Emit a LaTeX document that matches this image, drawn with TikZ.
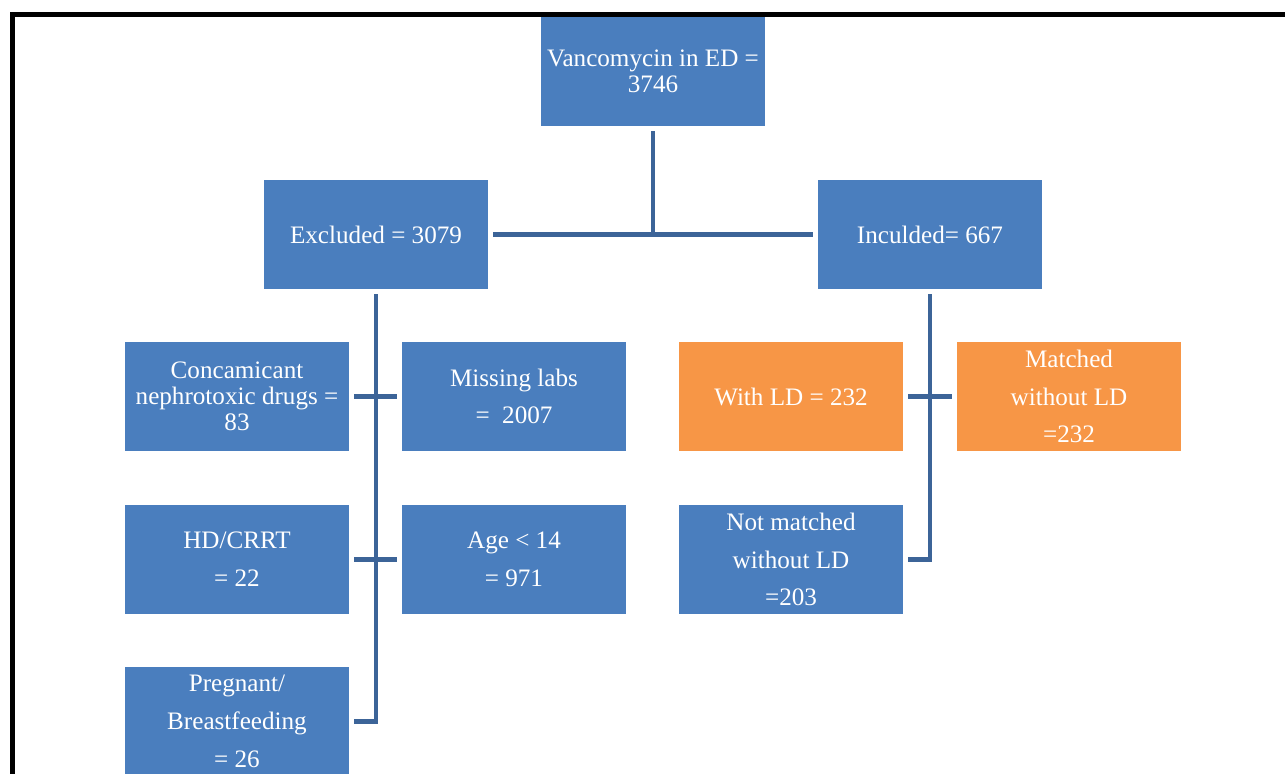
\documentclass[tikz,border=0pt]{standalone}
\usepackage{fontspec}
\setmainfont{Liberation Serif}
\usetikzlibrary{calc}

\definecolor{boxblue}{HTML}{4A7EBE}
\definecolor{boxorange}{HTML}{F79646}
\definecolor{linkblue}{HTML}{3C6498}

\tikzstyle{stage} = [fill=boxblue, rectangle, minimum width=4.48cm, minimum height=2.18cm, text=white, align=center, inner sep=0pt, font=\fontsize{14.3}{21.5}\selectfont]
\tikzstyle{tight} = [font=\fontsize{14.3}{14.8}\selectfont]
\tikzstyle{ldbox} = [stage, fill=boxorange]
\tikzstyle{link}  = [draw=linkblue, line width=2.6pt]

\begin{document}
\begin{tikzpicture}
  \useasboundingbox (0,0) rectangle (25.7,-15.48);
  \draw[line width=0.1cm, line cap=rect] (0.25,-16) |- (26,-0.29);
  \node at (13.06,-1.43) (vanco) [stage,tight] {Vancomycin in ED =\\3746};
  \node at (7.52,-4.69)  (excl)  [stage] {Excluded = 3079};
  \node at (18.60,-4.69) (incl)  [stage] {Inculded= 667};
  \node at (4.74,-7.93)  (conc)  [stage,tight] {Concamicant\\nephrotoxic drugs =\\83};
  \node at (10.28,-7.93) (miss)  [stage] {Missing labs\\=\ \ 2007};
  \node at (4.74,-11.19) (hd)    [stage] {HD/CRRT\\= 22};
  \node at (10.28,-11.19) (age)  [stage] {Age < 14\\= 971};
  \node at (4.74,-14.43) (preg)  [stage] {Pregnant/\\Breastfeeding\\= 26};
  \node at (15.82,-7.93) (withld) [ldbox] {With LD = 232};
  \node at (21.38,-7.93) (match)  [ldbox] {Matched\\without LD\\=232};
  \node at (15.82,-11.19) (notm)  [stage] {Not matched\\without LD\\=203};
  \coordinate (split) at (vanco |- excl);
  \path[link] ([yshift=-0.1cm]vanco.south) -- (split);
  \path[link] ([xshift=0.1cm]excl.east) -- ([xshift=-0.1cm]incl.west);
  \path[link] ([yshift=-0.1cm]excl.south) |- ([xshift=0.1cm]preg.east);
  \path[link] ([xshift=0.1cm]conc.east) -- ([xshift=-0.1cm]miss.west);
  \path[link] ([xshift=0.1cm]hd.east) -- ([xshift=-0.1cm]age.west);
  \path[link] ([yshift=-0.1cm]incl.south) |- ([xshift=0.1cm]notm.east);
  \path[link] ([xshift=0.1cm]withld.east) -- ([xshift=-0.1cm]match.west);
\end{tikzpicture}
\end{document}
